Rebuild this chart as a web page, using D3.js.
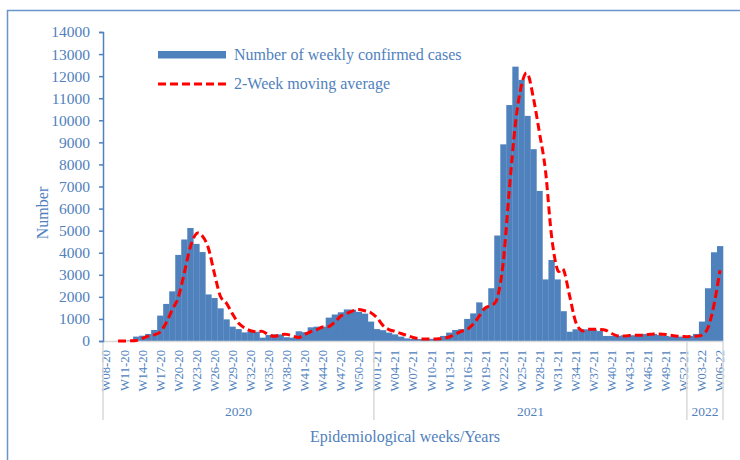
<!DOCTYPE html>
<html>
<head>
<meta charset="utf-8">
<script src="https://cdn.jsdelivr.net/npm/d3@7"></script>
<style>
  body { margin: 0; background: #fff; }
  svg text { font-family: "Liberation Serif", "Times New Roman", serif; fill: #4F81BD; }
</style>
</head>
<body>
<div id="chart"></div>
<script>
// Epidemiological week labels (category axis)
var weeks = [
  "W08-20","W09-20","W10-20","W11-20","W12-20","W13-20","W14-20","W15-20","W16-20","W17-20",
  "W18-20","W19-20","W20-20","W21-20","W22-20","W23-20","W24-20","W25-20","W26-20","W27-20",
  "W28-20","W29-20","W30-20","W31-20","W32-20","W33-20","W34-20","W35-20","W36-20","W37-20",
  "W38-20","W39-20","W40-20","W41-20","W42-20","W43-20","W44-20","W45-20","W46-20","W47-20",
  "W48-20","W49-20","W50-20","W51-20","W52-20",
  "W01-21","W02-21","W03-21","W04-21","W05-21","W06-21","W07-21","W08-21","W09-21","W10-21",
  "W11-21","W12-21","W13-21","W14-21","W15-21","W16-21","W17-21","W18-21","W19-21","W20-21",
  "W21-21","W22-21","W23-21","W24-21","W25-21","W26-21","W27-21","W28-21","W29-21","W30-21",
  "W31-21","W32-21","W33-21","W34-21","W35-21","W36-21","W37-21","W38-21","W39-21","W40-21",
  "W41-21","W42-21","W43-21","W44-21","W45-21","W46-21","W47-21","W48-21","W49-21","W50-21",
  "W51-21","W52-21",
  "W01-22","W02-22","W03-22","W04-22","W05-22","W06-22"
];

// Year groups under the week labels
var years = ["2020", "2021", "2022"];
var yearFirstWeek = ["W08-20", "W01-21", "W01-22"];
var yearLastWeek = ["W52-20", "W52-21", "W06-22"];

// Number of weekly confirmed cases
var weeklyCases = [
  0, 0, 5, 10, 30, 200, 240, 320, 500, 1150,
  1680, 2250, 3900, 4600, 5120, 4400, 4030, 2110, 1950, 1480,
  980, 650, 540, 390, 450, 420, 150, 270, 300, 300,
  170, 150, 440, 400, 620, 650, 650, 1060, 1200, 1300,
  1430, 1420, 1320, 1240, 880,
  540, 490, 380, 300, 200, 120, 90, 90, 90, 100,
  130, 230, 380, 500, 540, 1000, 1250, 1750, 1500, 2390,
  4780, 8910, 10690, 12430, 11830, 10200, 8690, 6800, 2790, 3670,
  2790, 1350, 420, 530, 530, 530, 520, 450, 230, 230,
  230, 260, 260, 260, 320, 320, 320, 270, 230, 200,
  200, 200,
  230, 320, 880, 2390, 4020, 4300
];

// 2-Week moving average (null where the line is not drawn)
var movingAverage = [
  null, null, 0, 3, 8, 20, 115, 220, 280, 410,
  825, 1415, 1965, 3075, 4250, 4860, 4760, 4215, 3070, 2030,
  1715, 1230, 815, 595, 465, 420, 435, 285, 210, 285,
  300, 235, 160, 295, 420, 510, 635, 650, 855, 1130,
  1250, 1365, 1425, 1370, 1280,
  1060, 710, 515, 435, 340, 250, 160, 105, 90, 90,
  95, 115, 180, 305, 440, 520, 770, 1125, 1500, 1615,
  1940, 3585, 6845, 9800, 11560, 12130, 11015, 9445, 7745, 4795,
  3230, 3230, 2070, 885, 475, 530, 530, 525, 485, 340,
  230, 230, 245, 260, 260, 290, 320, 320, 295, 250,
  215, 200,
  200, 215, 275, 600, 1635, 3205
];

var yTicks = d3.range(0, 14001, 1000);

var blue = "#4F81BD";

var svg = d3.select("#chart")
  .append("svg")
    .attr("width", 740)
    .attr("height", 460);

// Outer frame of the chart area
svg.append("rect")
  .attr("x", 7.5)
  .attr("y", 10.5)
  .attr("width", 800)
  .attr("height", 500)
  .attr("fill", "none")
  .attr("stroke", "#6A95CC")
  .attr("stroke-width", 1.5);

// Scales
var x = d3.scaleBand()
  .domain(weeks)
  .range([103, 723])
  .padding(0);

var y = d3.scaleLinear()
  .domain([0, 14000])
  .range([341, 32]);

// Bars
svg.append("g")
  .selectAll("rect")
  .data(weeklyCases)
  .enter()
  .append("rect")
    .attr("x", function(d, i) { return x(weeks[i]); })
    .attr("y", function(d) { return y(d); })
    .attr("width", x.bandwidth() + 0.3)
    .attr("height", function(d) { return y(0) - y(d); })
    .attr("fill", blue);

// X axis (week labels every third week)
var xAxis = svg.append("g")
  .attr("transform", "translate(0,341)")
  .call(d3.axisBottom(x)
    .tickValues(weeks.filter(function(d, i) { return i % 3 === 0; }))
    .tickSize(0));
xAxis.select(".domain").attr("stroke", "#D9D9D9").attr("stroke-width", 1.5);
xAxis.selectAll("text")
  .attr("transform", "rotate(-90)")
  .attr("x", -9)
  .attr("y", 0)
  .attr("dy", "0.35em")
  .style("text-anchor", "end")
  .style("font-size", "12.7px")
  .style("font-family", "'Liberation Serif', serif")
  .attr("fill", blue);

// Year separators and labels
var boundaries = [x(yearFirstWeek[0]), x(yearFirstWeek[1]), x(yearFirstWeek[2]), x(yearLastWeek[2]) + x.bandwidth()];
svg.append("g")
  .selectAll("line")
  .data(boundaries)
  .enter()
  .append("line")
    .attr("x1", function(d) { return d; })
    .attr("x2", function(d) { return d; })
    .attr("y1", 341)
    .attr("y2", 420)
    .attr("stroke", "#D9D9D9")
    .attr("stroke-width", 1.5);

svg.append("g")
  .selectAll("text")
  .data(years)
  .enter()
  .append("text")
    .attr("x", function(d, i) { return (x(yearFirstWeek[i]) + x(yearLastWeek[i]) + x.bandwidth()) / 2; })
    .attr("y", 416)
    .attr("text-anchor", "middle")
    .style("font-size", "13.5px")
    .text(function(d) { return d; });

// Y axis
var yAxis = svg.append("g")
  .attr("transform", "translate(103,0)")
  .call(d3.axisLeft(y).tickValues(yTicks).tickFormat(d3.format("d"))
    .tickSize(4).tickPadding(9).tickSizeOuter(4));
yAxis.select(".domain").attr("stroke", blue).attr("stroke-width", 1.5);
yAxis.selectAll(".tick line").attr("stroke", blue).attr("stroke-width", 1.5);
yAxis.selectAll("text")
  .style("font-size", "15.5px")
  .style("font-family", "'Liberation Serif', serif")
  .attr("fill", blue);

// 2-week moving average line (smoothed like the original)
var line = d3.line()
  .defined(function(d) { return d !== null; })
  .x(function(d, i) { return x(weeks[i]) + x.bandwidth() / 2; })
  .y(function(d) { return y(d); })
  .curve(d3.curveCardinal.tension(0));

svg.append("path")
  .datum(movingAverage)
  .attr("d", line)
  .attr("fill", "none")
  .attr("stroke", "#FF0000")
  .attr("stroke-width", 3)
  .attr("stroke-dasharray", "8,4");

// Axis titles
svg.append("text")
  .attr("transform", "translate(48,213)rotate(-90)")
  .attr("text-anchor", "middle")
  .style("font-size", "16px")
  .text("Number");

svg.append("text")
  .attr("x", 405)
  .attr("y", 442)
  .attr("text-anchor", "middle")
  .style("font-size", "16px")
  .text("Epidemiological weeks/Years");

// Legend
svg.append("rect")
  .attr("x", 158)
  .attr("y", 51)
  .attr("width", 68)
  .attr("height", 7.5)
  .attr("fill", blue);
svg.append("text")
  .attr("x", 234)
  .attr("y", 60)
  .style("font-size", "16px")
  .text("Number of weekly confirmed cases");

svg.append("line")
  .attr("x1", 158)
  .attr("x2", 226)
  .attr("y1", 84)
  .attr("y2", 84)
  .attr("stroke", "#FF0000")
  .attr("stroke-width", 3)
  .attr("stroke-dasharray", "8,4");
svg.append("text")
  .attr("x", 234)
  .attr("y", 89)
  .style("font-size", "16px")
  .text("2-Week moving average");
</script>
</body>
</html>
